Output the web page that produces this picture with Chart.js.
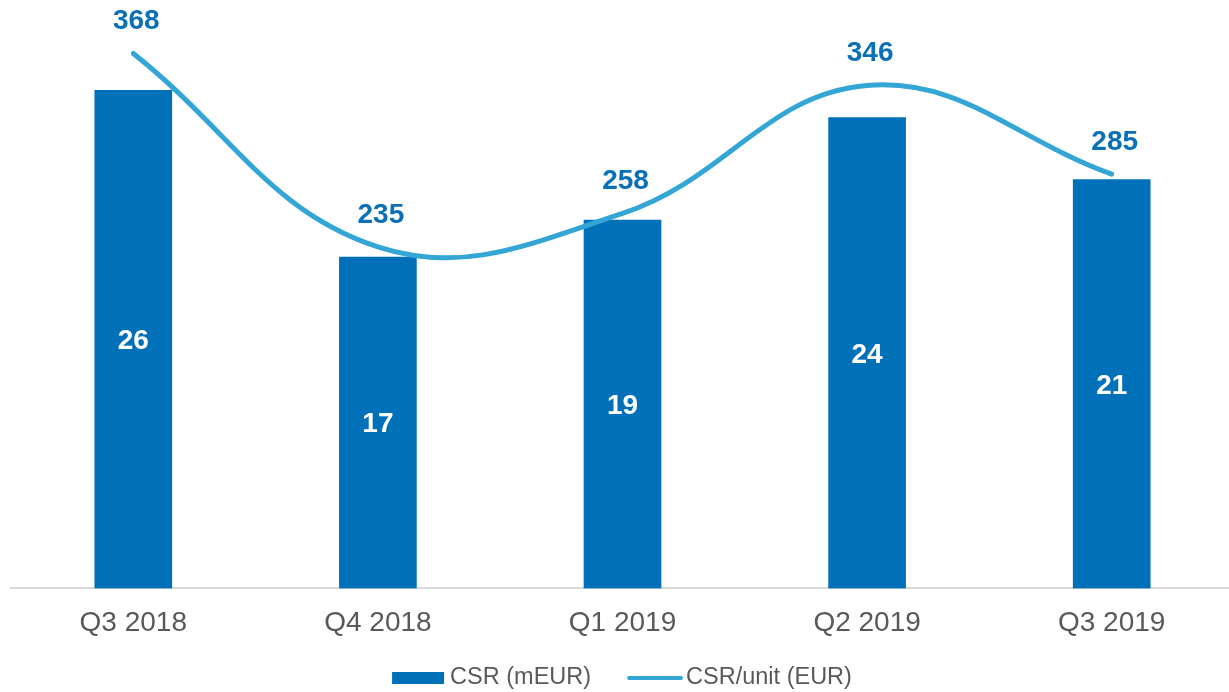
<!DOCTYPE html>
<html>
<head>
<meta charset="utf-8">
<script src="https://cdn.jsdelivr.net/npm/chart.js"></script>
<style>
html, body { margin: 0; padding: 0; background: #fff; overflow: hidden; }
#wrap { width: 1234px; height: 692px; }
</style>
</head>
<body>
<div id="wrap"><canvas id="csrChart"></canvas></div>
<script>
// data
var quarters = ["Q3 2018", "Q4 2018", "Q1 2019", "Q2 2019", "Q3 2019"];
var csrMeur = [25.7, 17.1, 19.0, 24.3, 21.1];
var csrUnit = [368, 235, 258, 346, 285];
var seriesNames = ["CSR (mEUR)", "CSR/unit (EUR)"];

var barBlue = '#0070b9';
var lineBlue = '#33a6d6';
var labelBlue = '#0a70b8';
var greyText = '#595959';
var fontFam = '"Liberation Sans", Arial, sans-serif';

// value labels on bars and above the line
var valueLabels = {
  id: 'valueLabels',
  afterDatasetsDraw: function(chart) {
    var ctx = chart.ctx;
    ctx.save();
    ctx.textAlign = 'center';
    ctx.textBaseline = 'middle';
    ctx.font = 'bold 28px ' + fontFam;
    chart.getDatasetMeta(0).data.forEach(function(bar, i) {
      ctx.fillStyle = '#ffffff';
      ctx.fillText(Math.round(csrMeur[i]), bar.x, (bar.y + bar.base) / 2 + 2);
    });
    chart.getDatasetMeta(1).data.forEach(function(pt, i) {
      ctx.fillStyle = labelBlue;
      ctx.fillText(csrUnit[i], pt.x + 3, pt.y - 32);
    });
    ctx.restore();
  }
};

// legend at the bottom (bar box + line sample)
var bottomLegend = {
  id: 'bottomLegend',
  afterDraw: function(chart) {
    var ctx = chart.ctx;
    ctx.save();
    ctx.font = '23.5px ' + fontFam;
    ctx.textBaseline = 'middle';
    var w1 = ctx.measureText(seriesNames[0]).width;
    var w2 = ctx.measureText(seriesNames[1]).width;
    var total = 52 + 6 + w1 + 36 + 56 + 3 + w2;
    var x = (chart.width - total) / 2 + 5;
    var y = 678;
    ctx.fillStyle = barBlue;
    ctx.fillRect(x, y - 6, 52, 12);
    x += 58;
    ctx.fillStyle = greyText;
    ctx.textAlign = 'left';
    ctx.fillText(seriesNames[0], x, y);
    x += w1 + 36;
    ctx.strokeStyle = lineBlue;
    ctx.lineWidth = 4;
    ctx.lineCap = 'round';
    ctx.beginPath();
    ctx.moveTo(x + 2, y);
    ctx.lineTo(x + 54, y);
    ctx.stroke();
    x += 59;
    ctx.fillText(seriesNames[1], x, y);
    ctx.restore();
  }
};

var ctx = document.getElementById('csrChart').getContext('2d');
var csrChart = new Chart(ctx, {
  type: 'bar',
  data: {
    labels: quarters,
    datasets: [{
      type: 'bar',
      label: seriesNames[0],
      data: csrMeur,
      backgroundColor: barBlue,
      barThickness: 77,
      yAxisID: 'y',
      order: 2
    },
    {
      type: 'line',
      label: seriesNames[1],
      data: csrUnit,
      borderColor: lineBlue,
      borderWidth: 5,
      borderCapStyle: 'round',
      pointRadius: 0,
      tension: 0.4,
      fill: false,
      yAxisID: 'y2',
      order: 1
    }]
  },
  options: {
    responsive: true,
    maintainAspectRatio: false,
    animation: false,
    layout: { padding: { left: 11, right: 0, top: 7, bottom: 34 } },
    plugins: {
      legend: { display: false },
      tooltip: { enabled: false }
    },
    scales: {
      x: {
        grid: { display: false, drawTicks: false },
        border: { color: '#d9d9d9', width: 2 },
        ticks: { color: greyText, font: { family: fontFam, size: 28 }, padding: 18 }
      },
      y: { display: false, min: 0, max: 30 },
      y2: { display: false, min: 0, max: 400, position: 'right' }
    }
  },
  plugins: [valueLabels, bottomLegend]
});
</script>
</body>
</html>
